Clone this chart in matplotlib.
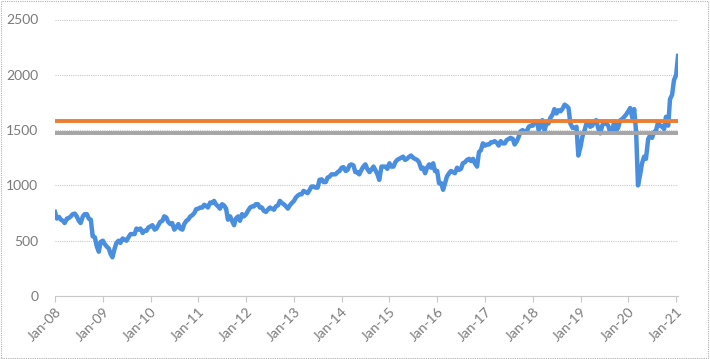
import numpy as np
import pandas as pd
import matplotlib.pyplot as plt
import matplotlib.dates as mdates

# semi-monthly index levels (1st and 15th of each month)
v2008 = [760, 700, 715, 690, 680, 660, 700, 705, 720, 740, 745, 720,
         680, 660, 720, 740, 740, 700, 690, 540, 530, 450, 400, 490]
v2009 = [500, 470, 445, 430, 380, 350, 430, 480, 500, 480, 520, 510,
         500, 530, 560, 560, 560, 610, 600, 610, 570, 590, 590, 620]
v2010 = [630, 640, 600, 610, 640, 670, 680, 720, 710, 670, 650, 660,
         600, 620, 650, 610, 600, 650, 680, 690, 720, 730, 750, 785]
v2011 = [790, 800, 800, 825, 815, 800, 845, 840, 860, 830, 810, 790,
         830, 820, 790, 690, 720, 680, 640, 700, 720, 680, 740, 720]
v2012 = [740, 770, 800, 810, 810, 830, 830, 800, 800, 770, 760, 780,
         800, 790, 780, 810, 820, 860, 840, 830, 810, 790, 820, 840]
v2013 = [860, 890, 910, 920, 920, 950, 940, 930, 960, 990, 990, 980,
         980, 1050, 1055, 1030, 1030, 1070, 1080, 1100, 1100, 1100, 1120, 1130]
v2014 = [1160, 1165, 1130, 1140, 1180, 1190, 1180, 1120, 1120, 1100, 1140, 1170,
         1190, 1150, 1120, 1140, 1170, 1140, 1100, 1050, 1170, 1170, 1170, 1150]
v2015 = [1200, 1170, 1170, 1210, 1230, 1240, 1250, 1260, 1230, 1240, 1260, 1270,
         1250, 1240, 1230, 1210, 1150, 1160, 1110, 1160, 1190, 1160, 1200, 1130]
v2016 = [1130, 1020, 1020, 960, 1020, 1080, 1110, 1130, 1120, 1110, 1160, 1140,
         1150, 1200, 1210, 1230, 1240, 1220, 1240, 1200, 1170, 1300, 1320, 1380]
v2017 = [1360, 1370, 1370, 1390, 1390, 1400, 1385, 1360, 1400, 1380, 1380, 1410,
         1420, 1430, 1420, 1370, 1400, 1440, 1490, 1500, 1480, 1490, 1530, 1540]
v2018 = [1540, 1580, 1580, 1500, 1530, 1590, 1500, 1560, 1560, 1610, 1640, 1690,
         1650, 1680, 1670, 1690, 1730, 1720, 1700, 1560, 1520, 1520, 1530, 1270]
v2019 = [1350, 1440, 1500, 1560, 1580, 1530, 1540, 1580, 1590, 1520, 1470, 1540,
         1570, 1560, 1540, 1480, 1490, 1580, 1500, 1520, 1590, 1600, 1620, 1640]
v2020 = [1670, 1700, 1610, 1690, 1480, 1000, 1100, 1200, 1260, 1240, 1420, 1450,
         1430, 1480, 1500, 1570, 1540, 1530, 1510, 1620, 1540, 1780, 1820, 1950]
v2021 = [2000, 2170]

values = v2008 + v2009 + v2010 + v2011 + v2012 + v2013 + v2014 + v2015 + \
    v2016 + v2017 + v2018 + v2019 + v2020 + v2021
dates = pd.date_range('2008-01-01', periods=len(values), freq='SMS')

level_a = 1580
level_b = 1478

plt.rcParams['font.family'] = ['Lato', 'DejaVu Sans']

fig = plt.figure(figsize=(7.10, 3.59), dpi=100)
ax = fig.add_axes([55 / 710, 1 - 296 / 359, 623 / 710, 276.5 / 359])

ax.plot(dates, values, color='#4a8fdf', lw=3.2, zorder=2)
ax.hlines(level_a, dates[0], dates[-1], color='#ed7d31', lw=2.8, zorder=3)
ax.hlines(level_b, dates[0], dates[-1], color='#a5a5a5', lw=2.8, zorder=3)

ax.set_xlim(dates[0], dates[-1])
ax.set_ylim(0, 2500)
ax.set_yticks(np.arange(0, 2501, 500))
ax.yaxis.grid(True, color='#c8c8c8', ls=(0, (1, 1)), lw=0.8)
ax.set_axisbelow(True)

ticks = pd.date_range('2008-01-01', '2021-01-01', freq='YS')
ax.set_xticks(ticks)
ax.xaxis.set_major_formatter(mdates.DateFormatter('Jan-%y'))
plt.setp(ax.get_xticklabels(), rotation=45, ha='right', rotation_mode='anchor')

for s in ['top', 'right', 'left']:
    ax.spines[s].set_visible(False)
ax.spines['bottom'].set_color('#c8c8c8')
ax.spines['bottom'].set_linestyle((0, (1, 1)))
ax.tick_params(axis='y', length=0, pad=12, labelsize=10, labelcolor='#7a7a7a')
ax.tick_params(axis='x', length=4, color='#c8c8c8', pad=3, labelsize=10, labelcolor='#7a7a7a')

# dotted outer border
border = plt.Rectangle((0.002, 0.003), 0.995, 0.994, transform=fig.transFigure,
                       fill=False, ec='#b0b0b0', ls=(0, (1, 1)), lw=0.8)
fig.patches.append(border)

fig.savefig('out.png', dpi=100)
